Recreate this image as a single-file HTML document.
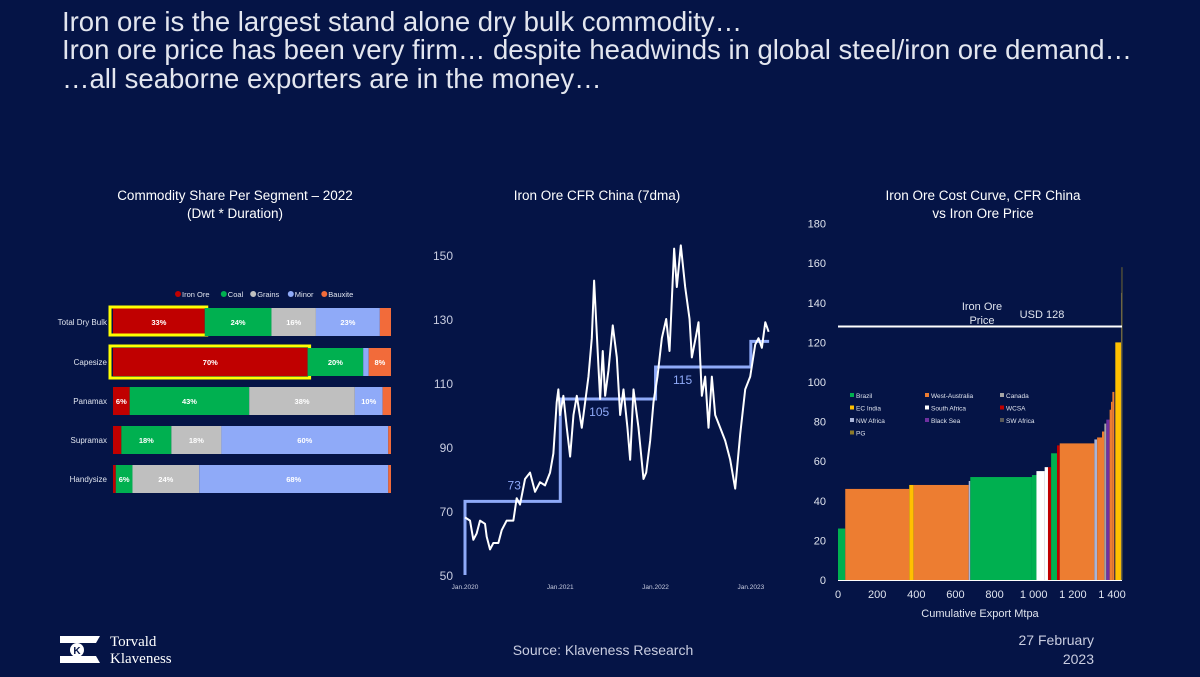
<!DOCTYPE html>
<html><head><meta charset="utf-8">
<style>
html,body{margin:0;padding:0;background:#051446;}
svg{display:block;font-family:"Liberation Sans",sans-serif;}
</style></head>
<body>
<svg id="root" width="1200" height="677" viewBox="0 0 1200 677" xmlns="http://www.w3.org/2000/svg">
<rect width="1200" height="677" fill="#051446"/>
<g fill="#e3e6ef" font-size="27.5">
<text x="62" y="31">Iron ore is the largest stand alone dry bulk commodity…</text>
<text x="62" y="59">Iron ore price has been very firm… despite headwinds in global steel/iron ore demand…</text>
<text x="62" y="88">…all seaborne exporters are in the money…</text>
</g>
<g fill="#ffffff" font-size="13.5" text-anchor="middle">
<text x="235" y="200">Commodity Share Per Segment – 2022</text>
<text x="235" y="218">(Dwt * Duration)</text>
<text x="597" y="200">Iron Ore CFR China (7dma)</text>
<text x="983" y="200">Iron Ore Cost Curve, CFR China</text>
<text x="983" y="218">vs Iron Ore Price</text>
</g>
<g id="bars"></g>
<g id="price"></g>
<g id="cost"></g>
<g>
<polygon points="60,636 100,636 96,643 60,643" fill="#fff"/>
<polygon points="60,656 96,656 100,663 60,663" fill="#fff"/>
<circle cx="77" cy="650" r="7" fill="#fff"/>
<text x="77" y="654" font-size="10" font-weight="bold" fill="#051446" text-anchor="middle">K</text>
<text x="110" y="646" font-size="15" fill="#fff" font-family="Liberation Serif,serif">Torvald</text>
<text x="110" y="663" font-size="15" fill="#fff" font-family="Liberation Serif,serif">Klaveness</text>
</g>
<text x="603" y="655" font-size="14" fill="#c9cde0" text-anchor="middle">Source: Klaveness Research</text>
<text x="1094" y="645" font-size="14" fill="#c9cde0" text-anchor="end">27 February</text>
<text x="1094" y="664" font-size="14" fill="#c9cde0" text-anchor="end">2023</text>
</svg>
<script>
const NS="http://www.w3.org/2000/svg";
function mk(parent,tag,attrs,txt){const e=document.createElementNS(NS,tag);for(const k in attrs)e.setAttribute(k,attrs[k]);if(txt!==undefined)e.textContent=txt;parent.appendChild(e);return e;}

// ---- Bar chart data ----
const segments=["Total Dry Bulk","Capesize","Panamax","Supramax","Handysize"];
const commodities=["Iron Ore","Coal","Grains","Minor","Bauxite"];
const ironOre=[33,70,6,3,1];
const coal=[24,20,43,18,6];
const grains=[16,0,38,18,24];
const minor=[23,2,10,60,68];
const bauxite=[4,8,3,1,1];
const barLabels=[["33%","24%","16%","23%",""],["70%","20%","","","8%"],["6%","43%","38%","10%",""],["","18%","18%","60%",""],["","6%","24%","68%",""]];
const comColors=["#c00000","#00b050","#bfbfbf","#8faaf8","#f26b3a"];

(function(){
 const g=document.getElementById('bars');
 const x0=113,W=278,rowY=[322,362,401,440,479],h=28;
 const series=[ironOre,coal,grains,minor,bauxite];
 let lx=178;
 commodities.forEach((c,i)=>{
  const lg=mk(g,'g',{});
  
  
  mk(lg,'circle',{cx:lx,cy:294,r:3,fill:comColors[i]});
  mk(lg,'text',{x:lx+4,y:297,'font-size':7.5,fill:'#e0e4ee'},c);
  lx+=4+c.length*4.1+9;
 });
 segments.forEach((s,r)=>{
  const tot=series.reduce((a,ser)=>a+ser[r],0);
  const lab=mk(g,'text',{x:107,y:rowY[r]+3,'font-size':8,fill:'#e0e4ee','text-anchor':'end'},s);
  
  
  let cx=x0;
  series.forEach((ser,i)=>{
   const w=ser[r]/tot*W;
   if(w<=0)return;
   const rc=mk(g,'rect',{x:cx,y:rowY[r]-h/2,width:w,height:h,fill:comColors[i]});
   
   
   if(barLabels[r][i]){
    const t=mk(g,'text',{x:cx+w/2,y:rowY[r]+3,'font-size':7.5,'font-weight':'bold',fill:'#fff','text-anchor':'middle'},barLabels[r][i]);
    
    
   }
   if(i===0&&r<2){
    const hb=mk(g,'rect',{x:x0-3,y:rowY[r]-h/2-(r===0?1:2),width:w+5,height:h+(r===0?0:4),fill:'none',stroke:'#ffff00','stroke-width':3});
    
    
   }
   cx+=w;
  });
 });
})();

// ---- Price chart data ----
const priceMonths=[0,0.63,1.05,1.47,1.89,2.52,2.73,3.15,3.57,4.2,4.62,5.25,6.09,6.51,6.93,7.56,8.19,8.82,9.45,10.08,10.71,11.13,11.55,11.76,11.97,12.39,12.82,13.24,13.66,14.08,14.71,15.13,15.55,15.97,16.26,16.81,17.02,17.35,17.65,18.07,18.61,19.12,19.54,19.96,20.46,20.8,21.22,21.85,22.48,22.82,23.32,23.74,24.24,24.79,25.34,25.76,26.34,26.68,27.18,27.73,28.28,28.57,29.12,29.41,29.83,30.25,30.67,31.09,31.51,32.14,32.77,33.4,34.03,34.66,35.29,35.92,36.55,36.97,37.39,37.82,38.24];
const priceValues=[68,67,61,63,67,66,62,58,60,60,64,67,67,74,72,80,82,76,79,78,82,88,104,108,100,106,96,87,100,106,96,104,112,124,142,115,105,120,106,114,128,118,100,108,96,86,108,96,80,82,92,104,112,124,130,120,152,140,153,140,130,118,125,129,106,112,96,112,100,96,92,86,77,94,108,112,122,124,121,129,126];
const stepYears=[2020,2021,2022,2023];
const stepValues=[73,105,115,123];
const priceTicks=[50,70,90,110,130,150];
const dateTicks=["Jan.2020","Jan.2021","Jan.2022","Jan.2023"];

(function(){
 const g=document.getElementById('price');
 const xS=m=>465+m*7.94, yS=v=>575-(v-50)*3.2;
 priceTicks.forEach(v=>{const t=mk(g,'text',{x:453,y:yS(v)+5,'font-size':12,fill:'#c9cde0','text-anchor':'end'},v);
  });
 dateTicks.forEach((d,i)=>{const t=mk(g,'text',{x:xS(i*12),y:589,'font-size':6.5,fill:'#c9cde0','text-anchor':'middle'},d);
  });
 let pts=[[xS(0),yS(50)]];
 stepYears.forEach((y,i)=>{const m0=(y-2020)*12,m1=Math.min(m0+12,38.3);pts.push([xS(m0),yS(stepValues[i])],[xS(m1),yS(stepValues[i])]);});
 const st=mk(g,'polyline',{points:pts.map(p=>p.join(',')).join(' '),fill:'none',stroke:'#8faaf8','stroke-width':3});
 
 const lblM=[6.2,16.9,27.4];
 stepValues.slice(0,3).forEach((v,i)=>{const t=mk(g,'text',{x:xS(lblM[i]),y:yS(v)-(i===0?12:-17),'font-size':12,fill:'#8faaf8','text-anchor':'middle'},v);
  });
 const pl=mk(g,'polyline',{points:priceMonths.map((m,i)=>xS(m)+','+yS(priceValues[i])).join(' '),fill:'none',stroke:'#ffffff','stroke-width':2,'stroke-linejoin':'round'});
 
})();

// ---- Cost curve data ----
const costStart=[0,37,364,387,668,676,991,1014,1056,1073,1089,1119,1133,1310,1324,1349,1361,1371,1388,1395,1402,1417,1446,1449];
const costWidth=[37,327,23,281,8,315,23,42,17,16,30,14,177,14,25,12,10,17,7,7,10,29,3,3];
const costValue=[26,46,48,48,50,52,53,55,57,57,64,68,69,71,72,75,79,81,86,90,95,120,145,158];
const costRegion=["Brazil","West-Australia","EC India","West-Australia","NW Africa","Brazil","Brazil","South Africa","South Africa","WCSA","Brazil","WCSA","West-Australia","NW Africa","West-Australia","West-Australia","Canada","Black Sea","West-Australia","West-Australia","West-Australia","EC India","SW Africa","PG"];
const regions=["Brazil","West-Australia","Canada","EC India","South Africa","WCSA","NW Africa","Black Sea","SW Africa","PG"];
const regionColors=["#00b050","#ed7d31","#a5a5a5","#ffc000","#ffffff","#c00000","#a9b4d8","#7030a0","#595959","#8c7a2a"];
const ironPrice=128;
const costYTicks=[0,20,40,60,80,100,120,140,160,180];
const costXTicks=[0,200,400,600,800,1000,1200,1400];
const costXLabels=["0","200","400","600","800","1 000","1 200","1 400"];

(function(){
 const g=document.getElementById('cost');
 const xS=v=>838+v*0.1957, yS=v=>580-v*1.98;
 costYTicks.forEach(v=>{const t=mk(g,'text',{x:826,y:yS(v)+4,'font-size':11,fill:'#e0e4ee','text-anchor':'end'},v);
  });
 costXTicks.forEach((v,i)=>{const t=mk(g,'text',{x:xS(v),y:598,'font-size':11,fill:'#e0e4ee','text-anchor':'middle'},costXLabels[i]);
  });
 const xt=mk(g,'text',{x:980,y:617,'font-size':11,fill:'#e0e4ee','text-anchor':'middle'},'Cumulative Export Mtpa');
 
 costStart.forEach((s,i)=>{
  const c=regionColors[regions.indexOf(costRegion[i])];
  const r=mk(g,'rect',{x:xS(s),y:yS(costValue[i]),width:Math.max(costWidth[i]*0.1957,0.8),height:costValue[i]*1.98,fill:c});
  
 });
 const ax=mk(g,'line',{x1:838,y1:580.5,x2:1122,y2:580.5,stroke:'#ffffff','stroke-width':1});
 
 const pl=mk(g,'line',{x1:838,y1:yS(ironPrice),x2:1122,y2:yS(ironPrice),stroke:'#ffffff','stroke-width':2});
 
 const t1=mk(g,'text',{x:982,y:310,'font-size':11,fill:'#e0e4ee','text-anchor':'middle'},'Iron Ore');
 
 const t2=mk(g,'text',{x:982,y:324,'font-size':11,fill:'#e0e4ee','text-anchor':'middle'},'Price');
 
 const t3=mk(g,'text',{x:1042,y:318,'font-size':11,fill:'#e0e4ee','text-anchor':'middle'},'USD '+ironPrice);
 
 regions.forEach((rg,i)=>{
  const lx=850+(i%3)*75, ly=398+Math.floor(i/3)*12.5;
  const lg=mk(g,'g',{});
  
  mk(lg,'rect',{x:lx,y:ly-5,width:4,height:4,fill:regionColors[i]});
  mk(lg,'text',{x:lx+6,y:ly,'font-size':6.5,fill:'#e0e4ee'},rg);
 });
})();
</script>
</body></html>
